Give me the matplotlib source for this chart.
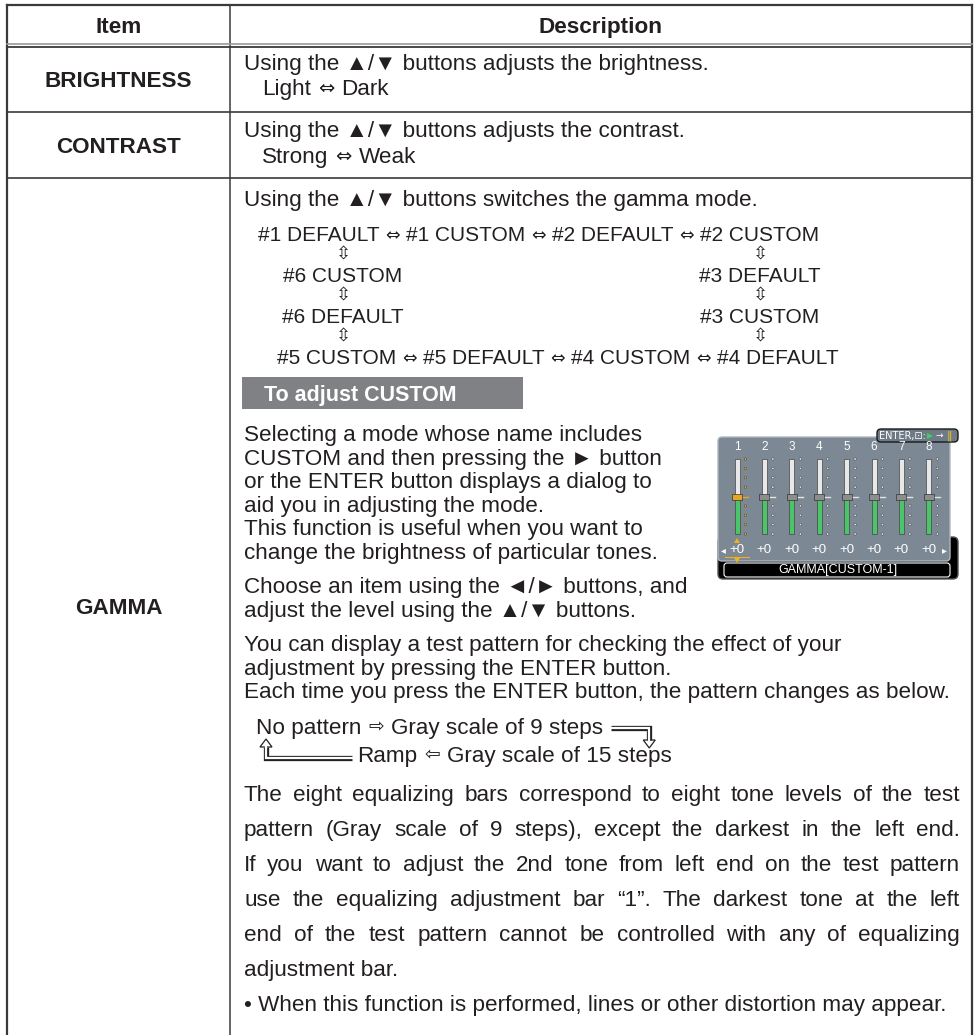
import matplotlib
matplotlib.use("Agg")
import matplotlib.pyplot as plt
from matplotlib.patches import Rectangle, FancyBboxPatch, Polygon, Circle

# ---- table content ----
header = ["Item", "Description"]
items = ["BRIGHTNESS", "CONTRAST", "GAMMA"]
brightness_lines = ["Using the \u25B2/\u25BC buttons adjusts the brightness.", ["Light", "Dark"]]
contrast_lines = ["Using the \u25B2/\u25BC buttons adjusts the contrast.", ["Strong", "Weak"]]
gamma_intro = "Using the \u25B2/\u25BC buttons switches the gamma mode."
cycle_top = ["#1 DEFAULT", "#1 CUSTOM", "#2 DEFAULT", "#2 CUSTOM"]
cycle_left = ["#6 CUSTOM", "#6 DEFAULT"]
cycle_right = ["#3 DEFAULT", "#3 CUSTOM"]
cycle_bottom = ["#5 CUSTOM", "#5 DEFAULT", "#4 CUSTOM", "#4 DEFAULT"]
custom_heading = "To adjust CUSTOM"
custom_lines = [
    "Selecting a mode whose name includes",
    "CUSTOM and then pressing the \u25BA button",
    "or the ENTER button displays a dialog to",
    "aid you in adjusting the mode.",
    "This function is useful when you want to",
    "change the brightness of particular tones.",
]
choose_lines = [
    "Choose an item using the \u25C4/\u25BA buttons, and",
    "adjust the level using the \u25B2/\u25BC buttons.",
]
pattern_lines = [
    "You can display a test pattern for checking the effect of your",
    "adjustment by pressing the ENTER button.",
    "Each time you press the ENTER button, the pattern changes as below.",
]
flow_top = ["No pattern", "Gray scale of 9 steps"]
flow_bottom = ["Ramp", "Gray scale of 15 steps"]
notes_justified = [
    "The eight equalizing bars correspond to eight tone levels of the test",
    "pattern (Gray scale of 9 steps), except the darkest in the left end.",
    "If you want to adjust the 2nd tone from left end on the test pattern",
    "use the equalizing adjustment bar \u201C1\u201D. The darkest tone at the left",
    "end of the test pattern cannot be controlled with any of equalizing",
]
notes_tail = [
    "adjustment bar.",
    "\u2022 When this function is performed, lines or other distortion may appear.",
]
# dialog (equalizer) content
slider_labels = ["1", "2", "3", "4", "5", "6", "7", "8"]
slider_values = [0, 0, 0, 0, 0, 0, 0, 0]
selected_slider = 0
dialog_title = "GAMMA[CUSTOM-1]"

W, H = 975, 1035
FAM = ["Liberation Sans", "DejaVu Sans"]
ARROW_FAM = ["DejaVu Sans"]
TXT = "#231f20"
LINE = "#3a3a3a"
BODY = 16.2
SMALL = 15.0

fig = plt.figure(figsize=(W / 100, H / 100), dpi=100)
ax = fig.add_axes([0, 0, 1, 1])
ax.set_xlim(0, W)
ax.set_ylim(H, 0)
ax.axis("off")
rend = fig.canvas.get_renderer()


def cap(size):
    return 0.716 * size * 100 / 72


def put(x, yc, s, size=BODY, **kw):
    # yc is the vertical middle of the capitals
    kw.setdefault("ha", "left")
    kw.setdefault("color", TXT)
    return ax.text(x, yc + cap(size) / 2, s, fontsize=size, family=FAM, va="baseline", **kw)


def run_line(x, yc, words, arrow, size, asize, gap=7):
    # words joined by an arrow glyph
    for i, w_ in enumerate(words):
        t = put(x, yc, w_, size=size)
        x = t.get_window_extent(rend).x1
        if i < len(words) - 1:
            a = ax.text(x + gap, yc + 1, arrow, fontsize=asize, family=ARROW_FAM, color=TXT,
                        va="center", ha="left")
            x = a.get_window_extent(rend).x1 + gap
    return x


# ---- grid ----
left, mid, right, top = 7, 230, 972, 5
row_edges = [45, 112, 178]
ax.plot([left, right], [top, top], color=LINE, lw=1.6)
ax.plot([left, left], [top, H], color=LINE, lw=1.6)
ax.plot([right, right], [top, H], color=LINE, lw=1.6)
ax.plot([mid, mid], [top, H], color=LINE, lw=1.1)
ax.plot([left, right], [43.5, 43.5], color="#9a9a9a", lw=1.2)
ax.plot([left, right], [46.5, 46.5], color=LINE, lw=1.3)
for y in row_edges[1:]:
    ax.plot([left, right], [y, y], color=LINE, lw=1.2)

# header
put((left + mid) / 2, 25, header[0], weight="bold", ha="center")
put((mid + right) / 2, 25, header[1], weight="bold", ha="center")

# item column
item_centers = [79, 145, 606]
for name, yc in zip(items, item_centers):
    put((left + mid) / 2, yc, name, weight="bold", ha="center")

X0 = 244
put(X0, 62, brightness_lines[0])
run_line(X0 + 18, 87, brightness_lines[1], "\u21D4", BODY, 14)
put(X0, 129, contrast_lines[0])
run_line(X0 + 18, 155, contrast_lines[1], "\u21D4", BODY, 14)
put(X0, 198, gamma_intro)

# gamma cycle diagram
dgy = [234 + 20.5 * k for k in range(7)]
run_line(258, dgy[0], cycle_top, "\u21D4", SMALL, 12.5, gap=6)
run_line(277, dgy[6], cycle_bottom, "\u21D4", SMALL, 12.5, gap=6)
lx, rx = 343, 760
for k in (1, 3, 5):
    ax.text(lx, dgy[k], "\u21F3", fontsize=13, family=ARROW_FAM, color=TXT, ha="center", va="center")
    ax.text(rx, dgy[k], "\u21F3", fontsize=13, family=ARROW_FAM, color=TXT, ha="center", va="center")
for s, k in zip(cycle_left, (2, 4)):
    put(lx, dgy[k], s, size=SMALL, ha="center")
for s, k in zip(cycle_right, (2, 4)):
    put(rx, dgy[k], s, size=SMALL, ha="center")

# heading box
ax.add_patch(Rectangle((242, 377), 281, 32, fc="#808184", ec="none"))
put(264, 393, custom_heading, size=15.5, weight="bold", color="white")

L = 23.5
sel_y = [433 + L * i for i in range(len(custom_lines))]
for s, y in zip(custom_lines, sel_y):
    put(X0, y, s)
for s, y in zip(choose_lines, [585, 585 + L]):
    put(X0, y, s)
for s, y in zip(pattern_lines, [643, 643 + L, 643 + 2 * L]):
    put(X0, y, s)

# pattern flow
xa = run_line(256, 726, flow_top, "\u21E8", BODY, 13.5)
run_line(357, 754, flow_bottom, "\u21E6", BODY, 13.5)


def hollow(pts, head, direction):
    xs, ys = zip(*pts)
    ax.plot(xs, ys, color="#222", lw=3.8, solid_joinstyle="miter", solid_capstyle="butt")
    ax.plot(xs, ys, color="white", lw=1.6, solid_joinstyle="miter", solid_capstyle="projecting")
    hx, hy = head
    if direction == "down":
        tri = [(hx - 6, hy), (hx + 6, hy), (hx, hy + 8)]
    else:
        tri = [(hx - 6, hy), (hx + 6, hy), (hx, hy - 8)]
    ax.add_patch(Polygon(tri, closed=True, fc="white", ec="#222", lw=0.9))


hollow([(xa + 8, 728), (xa + 46, 728), (xa + 46, 740)], (xa + 46, 740), "down")
hollow([(352, 758), (266, 758), (266, 747)], (266, 747), "up")

# justified paragraph
y = 793
for s in notes_justified:
    words = s.split()
    arts = [put(0, y, w_) for w_ in words]
    widths = [a.get_window_extent(rend).width for a in arts]
    gap = (960 - X0 - sum(widths)) / (len(words) - 1)
    x = X0
    for a, wd in zip(arts, widths):
        a.set_x(x)
        x += wd + gap
    y += 35
for s in notes_tail:
    put(X0, y, s)
    y += 35

# ---- equalizer dialog ----
dx, dy = 718, 437
ax.add_patch(FancyBboxPatch((dx, dy + 100), 240, 42, boxstyle="round,pad=0,rounding_size=5",
                            fc="black", ec="#555", lw=1.0))
ax.add_patch(FancyBboxPatch((dx + 6, dy + 126), 226, 14, boxstyle="round,pad=0,rounding_size=3",
                            fc="none", ec="white", lw=0.8))
ax.add_patch(FancyBboxPatch((dx, dy), 232, 124, boxstyle="round,pad=0,rounding_size=4",
                            fc="#7c8894", ec="#aeb7c0", lw=1.0))
ax.add_patch(FancyBboxPatch((dx + 159, dy - 8), 81, 13, boxstyle="round,pad=0,rounding_size=4",
                            fc="#6e7a86", ec="#1a1a1a", lw=1.0))
ax.text(dx + 161, dy - 1.5, "ENTER,\u22A1:", fontsize=7, family=ARROW_FAM, color="white", va="center")
ax.text(dx + 209, dy - 1.5, "\u25B6", fontsize=5.5, family=ARROW_FAM, color="#3fd060", va="center")
ax.text(dx + 217, dy - 1.5, "\u2192", fontsize=6.5, family=ARROW_FAM, color="white", va="center")
ax.text(dx + 229, dy - 1.5, "\u2016", fontsize=8, family=ARROW_FAM, color="#f2c81e", va="center")

track_top, track_mid, track_bot = dy + 22, dy + 60, dy + 97
step = (track_bot - track_top) / 8
for i, (lab, val) in enumerate(zip(slider_labels, slider_values)):
    sx = dx + 19 + i * 27.4
    sel = i == selected_slider
    ax.text(sx, dy + 10, lab, fontsize=8.5, family=FAM, color="white", ha="center", va="center")
    hy = track_mid - val * step
    ax.add_patch(Rectangle((sx - 2.5, track_top), 5, hy - track_top, fc="#e8e8e8", ec="#444", lw=0.5))
    ax.add_patch(Rectangle((sx - 2.5, hy), 5, track_bot - hy, fc="#4cc46a", ec="#444", lw=0.5))
    ax.add_patch(Rectangle((sx - 5, hy - 3), 10, 6, fc="#e8a423" if sel else "#8d8d8d", ec="#333", lw=0.5))
    dcol = "#e2a52a" if sel else "#e4e4e4"
    for k in range(9):
        ky = track_top + k * step
        if k == 4:
            ax.plot([sx + 6, sx + 11], [ky, ky], color=dcol, lw=1.0)
        else:
            ax.add_patch(Circle((sx + 8.5, ky), 1.2, fc=dcol, ec="#333", lw=0.3))
    ax.text(sx, dy + 113, "%+d" % val, fontsize=9.5, family=FAM, color="white", ha="center", va="center")
    if sel:
        ax.add_patch(Polygon([(sx - 3, dy + 106), (sx + 3, dy + 106), (sx, dy + 101)], fc="#f0b020", ec="none"))
        ax.plot([sx - 12, sx + 12], [dy + 120, dy + 120], color="#f0b020", lw=0.8)
        ax.add_patch(Polygon([(sx - 3, dy + 121), (sx + 3, dy + 121), (sx, dy + 126)], fc="#f0b020", ec="none"))
ax.text(dx + 3, dy + 113, "\u25C2", fontsize=7, family=ARROW_FAM, color="white", va="center")
ax.text(dx + 224, dy + 113, "\u25B8", fontsize=7, family=ARROW_FAM, color="white", va="center")
ax.text(dx + 120, dy + 133, dialog_title, fontsize=9, family=FAM, color="white", ha="center", va="center")

fig.savefig("out.png", dpi=100)
